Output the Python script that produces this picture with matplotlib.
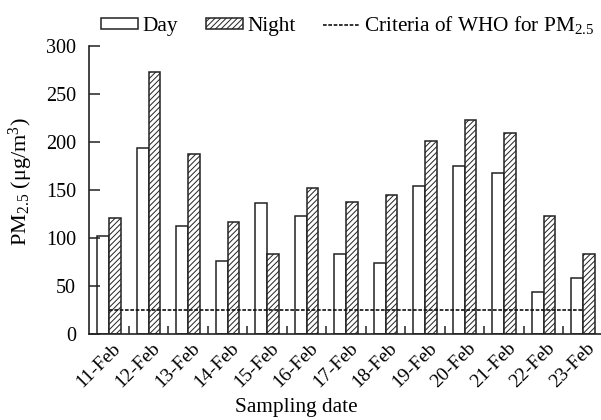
import numpy as np
import matplotlib
matplotlib.use("Agg")
import matplotlib.pyplot as plt
import matplotlib.transforms as mtransforms

plt.rcParams["font.family"] = ["Liberation Serif", "DejaVu Serif"]
plt.rcParams["mathtext.fontset"] = "custom"
plt.rcParams["mathtext.rm"] = "Liberation Serif"
plt.rcParams["mathtext.it"] = "Liberation Serif:italic"
plt.rcParams["hatch.linewidth"] = 0.7

dates = ["11-Feb", "12-Feb", "13-Feb", "14-Feb", "15-Feb", "16-Feb", "17-Feb",
         "18-Feb", "19-Feb", "20-Feb", "21-Feb", "22-Feb", "23-Feb"]
day = [102, 194, 113, 76, 137, 123, 83, 74, 154, 175, 168, 44, 59]
night = [121, 273, 187, 117, 83, 152, 138, 145, 201, 223, 209, 123, 83]
who_limit = 25

edge = "#222222"
fig = plt.figure(figsize=(6.01, 4.20), dpi=100)
ax = fig.add_axes([0.1486, 0.204, 0.8544, 0.687])

x = np.arange(len(dates))
w = 0.293
b_day = ax.bar(x - w / 2, day, w, color="white", edgecolor=edge, linewidth=1.1)
b_night = ax.bar(x + w / 2, night, w, color="white", edgecolor=edge, linewidth=1.1,
                 hatch="//////")
who_line, = ax.plot(x, [who_limit] * len(x), color="#111111",
                    linestyle=(0, (2.2, 1.0)), linewidth=1.2)

ax.set_xlim(-0.5, len(dates) - 0.5)
ax.set_ylim(0, 300)
ax.set_yticks(np.arange(0, 301, 50))
ax.spines["top"].set_visible(False)
ax.spines["right"].set_visible(False)
for s in ("left", "bottom"):
    ax.spines[s].set_color(edge)
    ax.spines[s].set_linewidth(1.2)

ax.set_xticks(x)
ax.set_xticklabels(dates, rotation=45, ha="right", va="top")
ax.set_xticks(np.arange(0.5, len(dates) - 1, 1.0), minor=True)
ax.tick_params(axis="x", which="major", length=0, pad=4, labelsize=14)
ax.tick_params(axis="x", which="minor", direction="in", length=5.5,
               width=1.1, color=edge)
ax.tick_params(axis="y", direction="in", length=7.7, width=1.1, color=edge,
               pad=9.5, labelsize=14.5)

# labels sit a little right of the category centre
shift = mtransforms.ScaledTranslation(0.15, 0, fig.dpi_scale_trans)
for lbl in ax.get_xticklabels():
    lbl.set_transform(lbl.get_transform() + shift)

ax.set_xlabel("Sampling date", fontsize=15.3)
ax.xaxis.set_label_coords(0.4025, -0.221)
fig.text(21 / 601, 1 - 182 / 420, r"PM$_{2.5}$ (μg/m$^3$)", rotation=90,
         ha="center", va="center", fontsize=16)

fig.legend([b_day, b_night, who_line],
           ["Day", "Night", "Criteria of WHO for PM$_{2.5}$"],
           loc="center left", bbox_to_anchor=(101 / 601, 1 - 25 / 420),
           ncol=3, frameon=False, fontsize=15.3, handlelength=1.75,
           handleheight=0.4, handletextpad=0.2, columnspacing=1.3,
           borderpad=0, borderaxespad=0)

fig.savefig("out.png", dpi=100)
